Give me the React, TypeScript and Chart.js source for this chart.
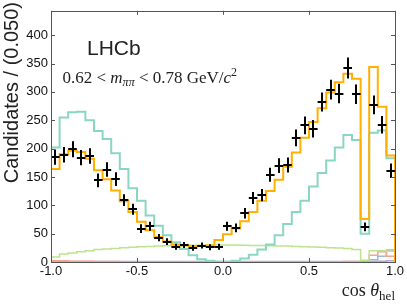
import React, { useEffect, useRef } from 'react';
import { Chart, registerables } from 'chart.js';

Chart.register(...registerables);

// Binning: 40 bins of width 0.05 on [-1, 1]
const X_MIN = -1;
const X_MAX = 1;
const BIN_WIDTH = 0.05;

const xTickValues = [-1.0, -0.5, 0.0, 0.5, 1.0];
const yTickValues = [0, 50, 100, 150, 200, 250, 300, 350, 400];

// Data (candidates per bin)
const dataCounts = [
  185, 189, 199, 184, 187, 144, 163, 146, 109, 93,
  59, 63, 43, 36, 27, 30, 25, 29, 26, 27,
  63, 60, 86, 113, 118, 154, 170, 171, 219, 241,
  235, 282, 304, 297, 342, 296, 62, 277, 242, 161,
];

// Total fit (orange)
const totalFit = [
  164, 190, 196, 194, 182, 162, 146, 126, 107, 88,
  71, 56, 44, 36, 31, 29, 28, 28, 29, 39,
  49, 59, 72, 88, 108, 125, 145, 168, 193, 219,
  247, 271, 299, 317, 332, 323, 76, 344, 274, 188,
];

// Main component (teal)
const tealComp = [
  202, 255, 264, 265, 250, 231, 217, 192, 164, 130,
  108, 82, 64, 47, 35, 23, 12, 5, 2, 0.5,
  0.5, 2, 6, 13, 22, 31, 47, 67, 88, 108,
  133, 157, 179, 202, 224, 215, 50, 228, 232, 183,
];

// Light green component
const greenComp = [
  9, 14, 16, 18, 20, 22, 23, 24, 25, 26,
  27, 27.5, 28, 28.5, 29, 29, 29.5, 29.5, 30, 30,
  30, 30, 29.5, 29, 29, 28.5, 28, 28, 27.5, 27,
  26.5, 26, 25, 24.5, 24, 22, 3, 20, 20, 19,
];

// Small components near zero
const salmonComp = [
  2, 2, 1.5, 1.5, 1.5, 1, 1, 1, 0.5, 0.5,
  0.5, 0.5, 0.5, 0.5, 0.5, 0.5, 0.5, 0.5, 0.5, 0.5,
  0.5, 0.5, 0.5, 0.5, 0.5, 0.5, 0.5, 0.5, 0.5, 0.5,
  0.5, 0.5, 0.5, 0.5, 1, 1, 2, 12, 18, 10,
];
const blueComp = [
  0, 0, 0, 0, 0, 0, 0, 0, 0, 0,
  0, 0, 0, 0, 0, 0, 0, 0, 0, 0,
  0, 0, 0, 0, 0, 0, 0, 0, 0, 0,
  0, 0, 0, 0, 0.5, 0.5, 1, 4, 10, 21,
];
const purpleComp = [
  1, 1, 1, 1, 1, 1, 1, 1, 1, 1,
  1, 1, 1, 1, 1, 1, 1, 1, 1, 1,
  1, 1, 1, 1, 1, 1, 1, 1, 1, 1,
  1, 1, 1, 1, 1, 1, 1, 1, 1.5, 2,
];

const COLORS = {
  total: '#ffb000',
  teal: '#8bd6c2',
  green: '#bde38c',
  salmon: '#f6a48a',
  blue: '#9bb7dc',
  purple: '#b4a6cf',
  frame: '#555555',
  text: '#222222',
};

function stepPoints(vals: number[]) {
  const pts: { x: number; y: number }[] = [{ x: X_MIN, y: 0 }];
  vals.forEach((v, i) => pts.push({ x: X_MIN + i * BIN_WIDTH, y: v }));
  pts.push({ x: X_MAX, y: vals[vals.length - 1] });
  pts.push({ x: X_MAX, y: 0 });
  return pts;
}

function stepDataset(label: string, vals: number[], color: string, width: number, order: number) {
  return {
    type: 'line' as const,
    label,
    data: stepPoints(vals),
    borderColor: color,
    backgroundColor: color,
    borderWidth: width,
    stepped: 'before' as const,
    pointRadius: 0,
    fill: false,
    order,
  };
}

const crossPlugin = {
  id: 'dataCrosses',
  afterDatasetsDraw(chart: any) {
    const { ctx, scales } = chart;
    const x = scales.x;
    const y = scales.y;
    ctx.save();
    ctx.strokeStyle = '#000';
    ctx.lineWidth = 2;
    dataCounts.forEach((n, i) => {
      const c = X_MIN + (i + 0.5) * BIN_WIDTH;
      const xl = x.getPixelForValue(c - BIN_WIDTH / 2);
      const xr = x.getPixelForValue(c + BIN_WIDTH / 2);
      const xc = Math.round(x.getPixelForValue(c));
      const e = Math.sqrt(n);
      const yc = Math.round(y.getPixelForValue(n));
      const yt = y.getPixelForValue(n + e);
      const yb = y.getPixelForValue(n - e);
      ctx.beginPath();
      ctx.moveTo(xl, yc);
      ctx.lineTo(xr, yc);
      ctx.moveTo(xc, yt);
      ctx.lineTo(xc, yb);
      ctx.stroke();
    });
    ctx.restore();
  },
};

type Run = { t: string; font: string; dy: number };

function drawRuns(ctx: CanvasRenderingContext2D, runs: Run[], x0: number, y0: number) {
  let x = x0;
  for (const r of runs) {
    ctx.font = r.font;
    ctx.fillText(r.t, x, y0 + r.dy);
    x += ctx.measureText(r.t).width;
  }
}

function runsWidth(ctx: CanvasRenderingContext2D, runs: Run[]) {
  let w = 0;
  for (const r of runs) {
    ctx.font = r.font;
    w += ctx.measureText(r.t).width;
  }
  return w;
}

const framePlugin = {
  id: 'frameAndText',
  afterDraw(chart: any) {
    const { ctx, chartArea, scales } = chart;
    const { left, right, top, bottom } = chartArea;
    const x = scales.x;
    const y = scales.y;
    ctx.save();
    // frame
    ctx.strokeStyle = COLORS.frame;
    ctx.lineWidth = 1;
    ctx.strokeRect(Math.round(left) + 0.5, Math.round(top) + 0.5, Math.round(right - left), Math.round(bottom - top));
    // inner ticks
    const tl = 4;
    ctx.beginPath();
    yTickValues.forEach((v) => {
      const py = Math.round(y.getPixelForValue(v)) + 0.5;
      ctx.moveTo(left, py);
      ctx.lineTo(left + tl, py);
      ctx.moveTo(right, py);
      ctx.lineTo(right - tl, py);
    });
    xTickValues.forEach((v) => {
      const px = Math.round(x.getPixelForValue(v)) + 0.5;
      ctx.moveTo(px, bottom);
      ctx.lineTo(px, bottom - tl);
      ctx.moveTo(px, top);
      ctx.lineTo(px, top + tl);
    });
    ctx.stroke();

    ctx.fillStyle = COLORS.text;
    ctx.textAlign = 'left';
    ctx.textBaseline = 'alphabetic';

    // LHCb label
    ctx.font = '21px "Liberation Sans", Arial, sans-serif';
    ctx.fillText('LHCb', 87, 55);

    // mass window label
    const serif = '"Liberation Serif", "DejaVu Serif", serif';
    drawRuns(ctx, [
      { t: '0.62 < ', font: `17px ${serif}`, dy: 0 },
      { t: 'm', font: `italic 17px ${serif}`, dy: 0 },
      { t: 'ππ', font: `italic 12px ${serif}`, dy: 3 },
      { t: ' < 0.78 GeV/', font: `17px ${serif}`, dy: 0 },
      { t: 'c', font: `italic 17px ${serif}`, dy: 0 },
      { t: '2', font: `12px ${serif}`, dy: -7 },
    ], 62.5, 83);

    // x-axis title
    const xRuns: Run[] = [
      { t: 'cos ', font: `18px ${serif}`, dy: 0 },
      { t: 'θ', font: `italic 18px ${serif}`, dy: 0 },
      { t: 'hel', font: `13px ${serif}`, dy: 4 },
    ];
    const w = runsWidth(ctx, xRuns);
    drawRuns(ctx, xRuns, 395 - w, 296);

    // y-axis title (rotated, aligned to the top)
    ctx.save();
    ctx.translate(18, 2);
    ctx.rotate(-Math.PI / 2);
    ctx.textAlign = 'right';
    ctx.font = '20px "Liberation Sans", Arial, sans-serif';
    ctx.fillText('Candidates / (0.050)', 0, 0);
    ctx.restore();

    ctx.restore();
  },
};

export default function App() {
  const ref = useRef<HTMLCanvasElement>(null);
  useEffect(() => {
    document.body.style.margin = '0';
    const canvas = ref.current;
    if (!canvas) return;
    const tickFont = { family: '"Liberation Sans", Arial, sans-serif', size: 13 };
    const chart = new Chart(canvas, {
      type: 'line',
      data: {
        datasets: [
          {
            type: 'scatter' as const,
            label: 'Data',
            data: dataCounts.map((n, i) => ({ x: X_MIN + (i + 0.5) * BIN_WIDTH, y: n })),
            pointRadius: 0,
            showLine: false,
            order: 0,
          } as any,
          stepDataset('Total', totalFit, COLORS.total, 2, 1),
          stepDataset('Main', tealComp, COLORS.teal, 2, 2),
          stepDataset('Green', greenComp, COLORS.green, 1.5, 3),
          stepDataset('Salmon', salmonComp, COLORS.salmon, 1.5, 4),
          stepDataset('Blue', blueComp, COLORS.blue, 1.5, 5),
          stepDataset('Purple', purpleComp, COLORS.purple, 1.5, 6),
        ],
      },
      options: {
        responsive: false,
        maintainAspectRatio: false,
        animation: false,
        devicePixelRatio: 1,
        events: [],
        layout: { padding: { top: 3, right: 12, left: 0, bottom: 0 } },
        plugins: {
          legend: { display: false },
          tooltip: { enabled: false },
          title: { display: false },
        },
        scales: {
          x: {
            type: 'linear',
            min: X_MIN,
            max: X_MAX,
            afterFit: (s: any) => { s.height = 42; },
            afterBuildTicks: (s: any) => { s.ticks = xTickValues.map((v) => ({ value: v })); },
            grid: { display: false, drawTicks: false },
            border: { display: false },
            ticks: {
              font: tickFont,
              color: '#111',
              padding: 2,
              maxRotation: 0,
              autoSkip: false,
              callback: (v: any) => Number(v).toFixed(1),
            },
          },
          y: {
            type: 'linear',
            min: 0,
            max: 443,
            afterFit: (s: any) => { s.width = 51; },
            afterBuildTicks: (s: any) => { s.ticks = yTickValues.map((v) => ({ value: v })); },
            grid: { display: false, drawTicks: false },
            border: { display: false },
            ticks: {
              font: tickFont,
              color: '#111',
              padding: 3,
              autoSkip: false,
              callback: (v: any) => String(v),
            },
          },
        },
      },
      plugins: [crossPlugin, framePlugin],
    });
    return () => chart.destroy();
  }, []);
  return (
    <div style={{ width: 407, height: 304 }}>
      <canvas ref={ref} width={407} height={304} style={{ display: 'block' }} />
    </div>
  );
}
